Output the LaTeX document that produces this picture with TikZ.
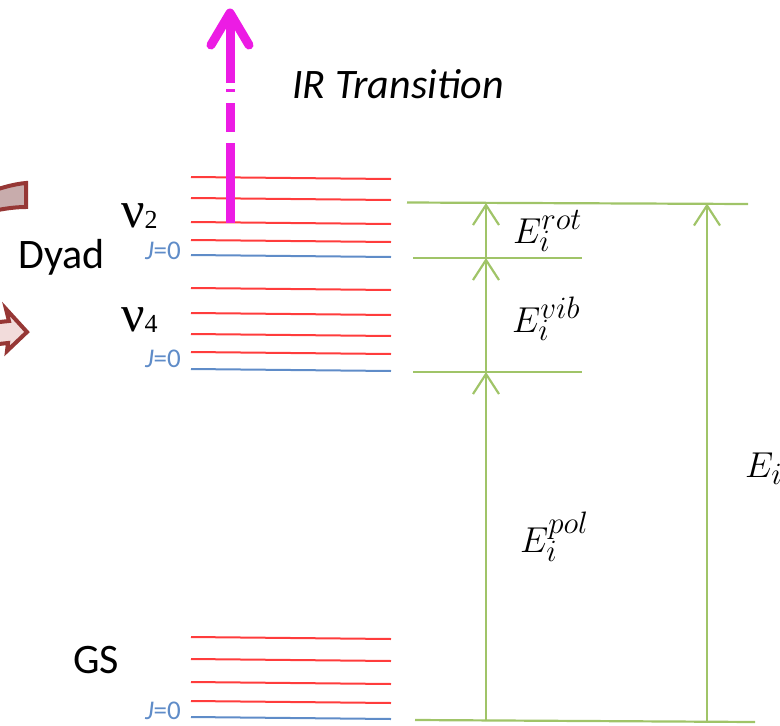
\RequirePackage{fix-cm}
\documentclass[tikz,border=0pt]{standalone}
\usepackage{fontspec}
\setmainfont{Carlito}
\newfontfamily\nufont{Liberation Serif}
\usetikzlibrary{arrows.meta}
\DeclareMathSizes{36}{36}{31}{24}
\definecolor{lvred}{RGB}{255,60,60}
\definecolor{lvblue}{RGB}{95,140,200}
\definecolor{grn}{RGB}{160,196,104}
\definecolor{mag}{RGB}{236,28,228}
\definecolor{brn}{RGB}{150,55,53}
\definecolor{fillA}{RGB}{200,172,172}
\definecolor{fillB}{RGB}{242,220,219}
\tikzset{
  redlv/.style={lvred, line width=2pt},
  bluelv/.style={lvblue, line width=2pt},
  gline/.style={grn, line width=2.2pt},
  garr/.style={grn, line width=2.2pt, -{Straight Barb[length=20pt,width=26pt]}},
  magline/.style={mag, line width=9pt},
  txt/.style={inner sep=0pt, font=\fontsize{42}{50}\selectfont},
  jlab/.style={inner sep=0pt, lvblue, anchor=base east, font=\fontsize{27}{30}\selectfont},
  mlab/.style={inner sep=0pt, anchor=base west, font=\fontsize{36}{43}\selectfont},
  brnshape/.style={brn, line width=4pt, line join=miter}
}
\begin{document}
\begin{tikzpicture}[x=1pt,y=-1pt]
\useasboundingbox (0,0) rectangle (780,726);

% left brown block arrow pieces
\draw[brnshape, fill=fillA] (-20,195) .. controls (0,188) and (14,184) .. (26,183) -- (26,207) .. controls (14,207) and (0,209) .. (-20,214) -- cycle;
\draw[brnshape, fill=fillB] (-10,323) -- (9,321) -- (6,309) -- (27,332) -- (7,351) -- (8,343) -- (-10,345) -- cycle;

% energy levels
\foreach \y in {177,198,222,240,288,313,334,352,637,659,682,701}
  \draw[redlv] (191,\y) -- (391,\y+2);
\foreach \y in {255,369,717}
  \draw[bluelv] (191,\y) -- (391,\y+2);

% green level lines
\draw[gline] (407,202.5) -- (748,204);
\draw[gline] (413,258) -- (582,258);
\draw[gline] (413,372) -- (582,372);
\draw[gline] (415,720) -- (755,722);

% green arrows
\coordinate (b1) at (486,721);
\coordinate (l1) at (486,372);
\coordinate (l2) at (486,258);
\coordinate (l3) at (486,203);
\coordinate (b2) at (707,722);
\coordinate (t2) at (707,203.5);
\draw[garr] (b1) -- (l1);
\draw[garr] (l1) -- (l2);
\draw[garr] (l2) -- (l3);
\draw[garr] (b2) -- (t2);

% magenta IR arrow
\coordinate (m0) at (230,223);
\coordinate (m1) at (230,143);
\coordinate (m2) at (230,132);
\coordinate (m3) at (230,103);
\coordinate (m4) at (230,92);
\coordinate (m5) at (230,89);
\coordinate (m6) at (230,83);
\coordinate (mt) at (230,13);
\draw[magline] (m0) -- (m1);
\draw[magline] (m2) -- (m3);
\draw[magline] (m4) -- (m5);
\draw[magline] (m6) -- (mt);
\draw[magline, line cap=round, line join=round] (211,45) -- (mt) -- (249,45);

% texts
\node[txt, anchor=base west] (ir) at (292,98) {\itshape IR Transition};
\node[txt, anchor=base west] (dyad) at (18,268) {Dyad};
\node[txt, anchor=base west] (gs) at (73,673) {GS};
\node[inner sep=0pt, anchor=base west] (nu2) at (121,227) {\nufont\fontsize{52}{56}\selectfont ν\fontsize{26}{28}\selectfont\raisebox{-1pt}{2}};
\node[inner sep=0pt, anchor=base west] (nu4) at (121,331) {\nufont\fontsize{52}{56}\selectfont ν\fontsize{26}{28}\selectfont\raisebox{-1pt}{4}};
\node[jlab] (j2) at (181,259) {\textit{J}=0};
\node[jlab] (j4) at (181,367) {\textit{J}=0};
\node[jlab] (jg) at (181,719) {\textit{J}=0};

\node[mlab] (erot) at (513,243) {$E_i^{rot}$};
\node[mlab] (evib) at (512,332) {$E_i^{vib}$};
\node[mlab] (epol) at (520,552) {$E_i^{pol}$};
\node[mlab] (ei) at (745,477) {$E_i$};
\end{tikzpicture}
\end{document}
